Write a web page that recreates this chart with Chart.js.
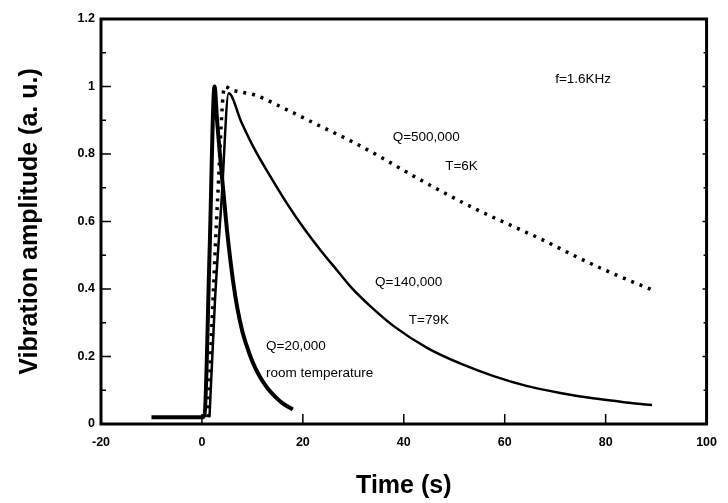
<!DOCTYPE html>
<html>
<head>
<meta charset="utf-8">
<title>Vibration amplitude decay</title>
<script src="https://cdn.jsdelivr.net/npm/chart.js@4.4.1/dist/chart.umd.min.js"></script>
<style>
    html, body { margin: 0; padding: 0; background: #fff; }
    canvas { display: block; }
</style>
</head>
<body>
<canvas id="decayChart" width="728" height="503"></canvas>
<script>
// Dados
const roomTime = [-10, -5, 0, 0.5, 1.5, 2.5, 3, 3.5, 4.3, 5, 6.2, 7, 8, 8.8, 10, 11.4, 13, 14.7, 16, 18];
const roomAmp = [0.02, 0.02, 0.02, 0.025, 0.5, 1.0, 0.9, 0.81, 0.68, 0.57, 0.42, 0.345, 0.275, 0.235, 0.185, 0.142, 0.106, 0.078, 0.061, 0.043];

const k79Time = [1.5, 2.6, 3.9, 5.3, 7.8, 10.4, 13.7, 17, 20.2, 23.5, 26.8, 30, 33.3, 38, 44.7, 51.4, 57.8, 64.3, 71, 77.5, 84, 89.2];
const k79Amp = [0.02, 0.37, 0.665, 0.98, 0.895, 0.815, 0.73, 0.65, 0.58, 0.515, 0.455, 0.398, 0.35, 0.29, 0.225, 0.178, 0.142, 0.113, 0.092, 0.076, 0.064, 0.056];

const k6Time = [1.2, 2.2, 3.1, 4.5, 5.9, 10.4, 17, 23.5, 30, 36.7, 42.5, 48, 54.5, 61, 67.6, 74, 80.8, 89.6];
const k6Amp = [0.02, 0.37, 0.665, 1.0, 0.99, 0.975, 0.93, 0.882, 0.835, 0.78, 0.73, 0.685, 0.635, 0.59, 0.545, 0.497, 0.45, 0.395];

const xRange = [-20, 100];
const yRange = [0, 1.2];

// Textos dentro do gráfico (coordenadas em unidades dos eixos)
const notes = [
    { text: 'f=1.6KHz', x: 70, y: 1.022 },
    { text: 'Q=500,000', x: 37.8, y: 0.85 },
    { text: 'T=6K', x: 48.2, y: 0.763 },
    { text: 'Q=140,000', x: 34.3, y: 0.42 },
    { text: 'T=79K', x: 41, y: 0.306 },
    { text: 'Q=20,000', x: 12.7, y: 0.229 },
    { text: 'room temperature', x: 12.7, y: 0.149 }
];

const FONT = 'Arial, "Liberation Sans", Helvetica, sans-serif';

function toPoints(xs, ys) {
    return xs.map((x, i) => ({ x: x, y: ys[i] }));
}

// Moldura, marcas internas dos eixos, títulos e anotações
const framePlugin = {
    id: 'frame',
    afterDraw(chart) {
        const { ctx, chartArea: a, scales: { x, y } } = chart;
        ctx.save();
        ctx.strokeStyle = '#000';
        ctx.lineWidth = 1.5;

        // marcas do eixo x (para dentro)
        x.ticks.forEach(t => {
            const px = x.getPixelForValue(t.value);
            ctx.beginPath();
            ctx.moveTo(px, a.bottom);
            ctx.lineTo(px, a.bottom - 10);
            ctx.stroke();
        });

        // marcas do eixo y: maiores e menores
        y.ticks.forEach((t, i) => {
            const py = y.getPixelForValue(t.value);
            ctx.beginPath();
            ctx.moveTo(a.left, py);
            ctx.lineTo(a.left + 10, py);
            ctx.moveTo(a.right, py);
            ctx.lineTo(a.right - 4, py);
            ctx.stroke();
            if (i < y.ticks.length - 1) {
                const mid = y.getPixelForValue((t.value + y.ticks[i + 1].value) / 2);
                ctx.beginPath();
                ctx.moveTo(a.left, mid);
                ctx.lineTo(a.left + 5, mid);
                ctx.moveTo(a.right, mid);
                ctx.lineTo(a.right - 3, mid);
                ctx.stroke();
            }
        });

        ctx.lineWidth = 3;
        ctx.strokeRect(a.left, a.top, a.right - a.left, a.bottom - a.top);

        // anotações
        ctx.fillStyle = '#000';
        ctx.font = '13.5px ' + FONT;
        ctx.textAlign = 'left';
        ctx.textBaseline = 'middle';
        notes.forEach(n => {
            ctx.fillText(n.text, x.getPixelForValue(n.x), y.getPixelForValue(n.y));
        });

        // títulos dos eixos
        ctx.font = 'bold 25px ' + FONT;
        ctx.textAlign = 'center';
        ctx.fillText('Time (s)', (a.left + a.right) / 2, 486);

        ctx.save();
        ctx.translate(30, (a.top + a.bottom) / 2);
        ctx.rotate(-Math.PI / 2);
        ctx.fillText('Vibration amplitude (a. u.)', 0, 0);
        ctx.restore();

        ctx.restore();
    }
};

const config = {
    type: 'scatter',
    data: {
        datasets: [
            {
                label: 'room temperature',
                data: toPoints(roomTime, roomAmp),
                showLine: true,
                borderColor: '#000',
                borderWidth: 4,
                pointRadius: 0,
                cubicInterpolationMode: 'monotone'
            },
            {
                label: 'T=79K',
                data: toPoints(k79Time, k79Amp),
                showLine: true,
                borderColor: '#000',
                borderWidth: 2.5,
                pointRadius: 0,
                cubicInterpolationMode: 'monotone'
            },
            {
                label: 'T=6K',
                data: toPoints(k6Time, k6Amp),
                showLine: true,
                borderColor: '#000',
                borderWidth: 3.5,
                borderDash: [3, 6],
                pointRadius: 0,
                cubicInterpolationMode: 'monotone'
            }
        ]
    },
    options: {
        responsive: false,
        animation: false,
        layout: {
            padding: { top: 19, right: 15, left: 0, bottom: 0 }
        },
        plugins: {
            legend: { display: false },
            tooltip: { enabled: false }
        },
        scales: {
            x: {
                min: xRange[0],
                max: xRange[1],
                ticks: {
                    stepSize: 20,
                    color: '#000',
                    padding: 11,
                    maxRotation: 0,
                    font: { family: FONT, size: 12.5, weight: 'bold' }
                },
                grid: { display: false, drawTicks: false },
                border: { display: false },
                afterFit: function (scale) { scale.height = 79; }
            },
            y: {
                min: yRange[0],
                max: yRange[1],
                ticks: {
                    stepSize: 0.2,
                    color: '#000',
                    padding: 6,
                    font: { family: FONT, size: 12.5, weight: 'bold' },
                    callback: function (value) {
                        return String(Math.round(value * 10) / 10);
                    }
                },
                grid: { display: false, drawTicks: false },
                border: { display: false },
                afterFit: function (scale) { scale.width = 101; }
            }
        }
    },
    plugins: [framePlugin]
};

new Chart(document.getElementById('decayChart'), config);
</script>
</body>
</html>
